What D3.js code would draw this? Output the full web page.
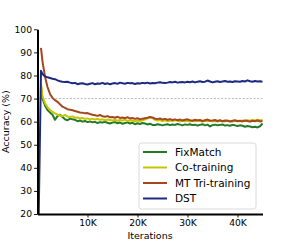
<!DOCTYPE html>
<html><head><meta charset="utf-8">
<script src="https://cdn.jsdelivr.net/npm/d3@7"></script>
<style>
body{margin:0;background:#fff;}
text{font-family:"DejaVu Sans",sans-serif;fill:#000;}
</style></head>
<body><svg id="c" width="291" height="242"></svg>
<script>
const iterations = [200, 700,
 1000,1500,2000,2500,3000,3500,4000,4500,5000,5500,6000,6500,7000,7500,8000,8500,9000,9500,10000,
 10500,11000,11500,12000,12500,13000,13500,14000,14500,15000,
 15500,16000,16500,17000,17500,18000,18500,19000,19500,20000,
 20500,21000,21500,22000,22500,23000,23500,24000,24500,25000,
 25500,26000,26500,27000,27500,28000,28500,29000,29500,30000,
 30500,31000,31500,32000,32500,33000,33500,34000,34500,35000,
 35500,36000,36500,37000,37500,38000,38500,39000,39500,40000,
 40500,41000,41500,42000,42500,43000,43500,44000,44500,45000];

const fixMatch = [null, 75.5,
 70,67,65,64,63,60.8,62.4,63.0,62.0,61.0,60.6,61.3,61.0,60.8,60.2,60.5,60.0,60.3,59.8,
 60.1,59.7,59.9,59.4,59.8,59.6,59.9,59.5,59.2,59.6,
 59.8,59.3,59.6,59.1,59.4,59.7,59.2,59.5,58.9,59.3,
 59.0,59.4,59.2,58.8,59.1,58.6,58.5,58.9,58.7,58.4,
 58.7,58.9,58.5,58.8,58.6,59.0,58.7,58.4,58.8,58.6,
 58.9,58.5,58.7,58.3,58.6,58.9,58.4,58.7,57.9,58.5,
 58.7,58.4,58.6,58.8,58.3,58.5,58.2,58.6,58.4,58.1,
 58.4,58.2,57.8,58.1,57.9,57.6,57.8,57.5,58.0,59.2];

const coTraining = [null, 76.5,
 71,68,66.3,65,64.2,63.6,63.0,62.7,62.4,62.9,62.2,62.0,62.3,61.7,61.8,61.4,61.6,61.2,61.4,
 61.0,61.3,60.9,61.2,60.8,61.0,60.6,60.9,60.7,60.5,
 60.8,60.4,60.7,60.5,60.9,60.3,60.6,60.4,60.2,60.5,
 60.3,60.6,60.9,61.4,61.9,61.5,60.8,60.5,60.7,60.3,
 60.6,60.2,60.5,60.3,60.7,60.4,60.1,60.5,60.2,60.4,
 60.1,60.4,60.2,60.6,60.3,60.0,60.4,60.2,60.5,60.1,
 60.3,60.0,60.4,60.2,60.1,60.5,60.2,60.0,60.3,60.4,
 60.2,60.5,60.3,60.6,60.4,60.7,60.5,60.8,60.6,60.7];

const mtTriTraining = [null, 92,
 86,79.5,75,72,70.3,69.3,68.6,67.5,66.5,66.0,65.4,65.2,64.9,64.6,64.3,64.0,63.9,63.6,63.7,
 63.3,63.0,62.8,62.5,62.9,62.3,62.1,62.4,61.9,62.0,
 61.7,62.1,61.6,61.8,61.5,61.9,61.4,61.6,61.2,61.5,
 61.0,61.3,61.5,61.7,62.0,61.8,61.3,61.1,61.4,60.9,
 61.2,60.8,61.1,60.7,61.0,60.6,60.9,60.5,60.8,61.0,
 60.6,60.4,60.8,60.5,60.7,60.3,60.6,60.9,60.4,60.5,
 60.7,60.3,60.6,60.2,60.5,60.4,60.1,60.4,60.6,60.2,
 60.4,60.1,60.5,60.3,60.0,60.4,60.2,60.5,60.1,60.3];

const dst = [14, 82,
 80.6,79.6,79.2,78.9,78.6,78.4,77.9,77.5,77.3,77.2,77.3,76.9,76.6,76.8,76.2,76.5,76.6,76.3,76.1,
 76.4,76.7,76.2,76.5,76.4,76.8,76.3,76.6,76.2,76.5,
 76.7,76.4,76.9,76.6,76.4,76.8,76.6,76.7,76.3,76.6,
 76.5,76.8,76.6,76.9,76.5,76.7,76.6,76.9,77.1,76.8,
 76.7,76.9,77.2,77.0,77.3,76.9,77.1,77.2,77.0,77.3,
 77.1,77.4,77.0,77.3,77.5,77.2,77.3,77.8,77.4,77.0,
 77.3,77.5,77.2,77.4,77.6,77.3,77.4,77.2,77.5,77.4,
 77.3,77.6,77.4,77.9,77.5,77.3,77.6,77.4,77.5,77.3];

const seriesNames = ["FixMatch", "Co-training", "MT Tri-training", "DST"];
const seriesValues = [fixMatch, coTraining, mtTriTraining, dst];
const seriesColors = ["#237a27", "#c9c400", "#a4471f", "#1c2a80"];
const yTicks = [20,30,40,50,60,70,80,90,100];
const xTicks = [10000,20000,30000,40000];
const refLine = 70;

const svg = d3.select("#c");
const L = 37.5, R = 262.5, T = 29.3, B = 214;
const x = d3.scaleLinear().domain([0,45000]).range([L,R]);
const y = d3.scaleLinear().domain([20,100]).range([B,T]);

svg.append("defs").append("clipPath").attr("id","clip")
  .append("rect").attr("x",L).attr("y",T-5).attr("width",R-L+2).attr("height",B-T+5);

// reference line
svg.append("line").attr("x1",L).attr("x2",R).attr("y1",y(refLine)).attr("y2",y(refLine))
  .attr("stroke","#b0b0b0").attr("stroke-width",0.9).attr("stroke-dasharray","2,1.6");

const g = svg.append("g").attr("clip-path","url(#clip)");
seriesValues.forEach((vals,i)=>{
  const line = d3.line().defined(d=>d[1]!=null).x(d=>x(d[0])).y(d=>y(d[1]));
  g.append("path").datum(iterations.map((it,k)=>[it,vals[k]]))
    .attr("d",line).attr("fill","none").attr("stroke",seriesColors[i])
    .attr("stroke-width",2).attr("stroke-linejoin","round");
});

// axes
const ya = svg.append("g").attr("transform",`translate(${L},0)`)
  .call(d3.axisLeft(y).tickValues(yTicks).tickSize(3.5).tickSizeOuter(0).tickPadding(2));
const xa = svg.append("g").attr("transform",`translate(0,${B})`)
  .call(d3.axisBottom(x).tickValues(xTicks).tickSize(3.5).tickSizeOuter(0).tickPadding(2)
    .tickFormat(d=>d/1000+"K"));
[ya,xa].forEach(a=>{
  a.select(".domain").attr("stroke","#000").attr("stroke-width",2);
  a.selectAll(".tick line").attr("stroke","#000").attr("stroke-width",0.9);
  a.selectAll("text").attr("font-size","9.2px").attr("font-family","DejaVu Sans").attr("fill","#000");
});

svg.append("text").attr("x",(L+R)/2).attr("y",239).attr("text-anchor","middle")
  .attr("font-size","9.5px").text("Iterations");
svg.append("text").attr("transform",`translate(9,${(T+B)/2}) rotate(-90)`)
  .attr("text-anchor","middle").attr("font-size","9.5px").text("Accuracy (%)");

// legend
const lg = svg.append("g");
lg.append("rect").attr("x",139).attr("y",143).attr("width",117).attr("height",66)
  .attr("rx",2.5).attr("fill","#fff").attr("fill-opacity",0.85)
  .attr("stroke","#d0d0d0").attr("stroke-width",0.8);
seriesNames.forEach((n,i)=>{
  const yy = 152 + i*15.5;
  lg.append("line").attr("x1",143).attr("x2",167).attr("y1",yy).attr("y2",yy)
    .attr("stroke",seriesColors[i]).attr("stroke-width",2);
  lg.append("text").attr("x",175).attr("y",yy+3.8).attr("font-size","10.5px").text(n);
});
</script></body></html>
